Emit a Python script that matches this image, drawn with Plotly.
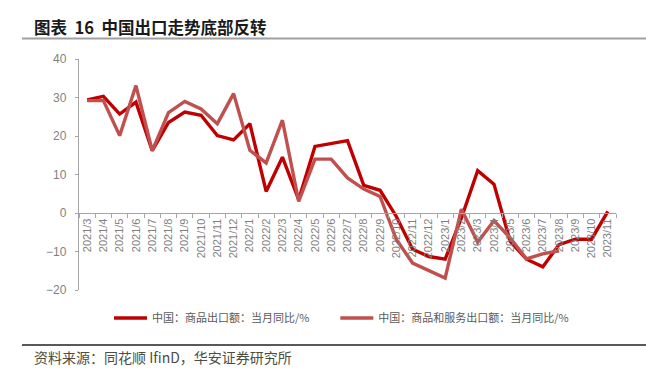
import plotly.graph_objects as go

months = ["2021/3", "2021/4", "2021/5", "2021/6", "2021/7", "2021/8", "2021/9", "2021/10",
          "2021/11", "2021/12", "2022/1", "2022/2", "2022/3", "2022/4", "2022/5", "2022/6",
          "2022/7", "2022/8", "2022/9", "2022/10", "2022/11", "2022/12", "2023/1", "2023/2",
          "2023/3", "2023/4", "2023/5", "2023/6", "2023/7", "2023/8", "2023/9", "2023/10",
          "2023/11"]

goods_exports = [29.4, 30.3, 25.7, 28.8, 16.2, 23.5, 26.2, 25.4, 20.1, 19.0,
                 23.2, 5.6, 14.5, 3.5, 17.3, 18.0, 18.8, 7.2, 5.9, -0.9, -9.4, -11.3,
                 -12.0, -1.3, 11.0, 7.5, -7.4, -12.0, -14.0, -8.2, -6.8, -6.8, 0.4]

goods_services_exports = [29.2, 29.2, 20.1, 33.1, 16.2, 26.1, 29.0, 27.0, 23.2, 31.0,
                          16.3, 13.0, 24.1, 3.0, 14.0, 14.0, 9.1, 6.2, 4.3, -6.9, -13.0, -14.9,
                          -16.9, 1.0, -7.6, -2.0, -6.5, -11.9, -10.6, -9.8]

name1 = "中国：商品出口额：当月同比/%"
name2 = "中国：商品和服务出口额：当月同比/%"
title_text = "图表\u00a0\u00a016\u00a0\u00a0中国出口走势底部反转"
source_text = "资料来源：同花顺 IfinD，华安证券研究所"

W, H = 646, 382
L, R, T, B = 79, 30, 59, 20
PW, PH = W - L - R, H - T - B
Y_BOTTOM = 290  # pixel row of y=-20
Y_ZERO = 213    # pixel row of y=0


def px(x):
    return (x - L) / PW


def py(y):
    return (H - B - y) / PH


fig = go.Figure()
fig.add_trace(go.Scatter(x=months, y=goods_exports, mode="lines",
                         name=name1 + "\u3000\u00a0\u00a0\u00a0\u00a0",
                         line=dict(color="#C00000", width=3.4)))
fig.add_trace(go.Scatter(x=months[:len(goods_services_exports)], y=goods_services_exports,
                         mode="lines", name=name2,
                         line=dict(color="#C0504D", width=3.4)))

gray = "#7F7F7F"
fig.update_layout(
    width=W, height=H,
    margin=dict(l=L, r=R, t=T, b=B),
    paper_bgcolor="white", plot_bgcolor="white",
    font=dict(family="Liberation Sans, Arial", color=gray),
    showlegend=True,
    legend=dict(orientation="h", x=px(109), xanchor="left", y=py(318), yanchor="middle",
                font=dict(family="Noto Sans CJK SC", size=11, color="#595959"),
                itemwidth=33, bgcolor="rgba(0,0,0,0)"),
    xaxis=dict(type="category", range=[-0.5, 32.5], anchor="free", position=py(Y_ZERO),
               showline=True, linecolor="#A6A6A6", linewidth=1.3,
               ticks="outside", ticklen=4, tickcolor="#A6A6A6", tickson="boundaries",
               tickangle=-90, tickfont=dict(size=11, color=gray),
               showgrid=False, zeroline=False),
    yaxis=dict(domain=[py(Y_BOTTOM), 1], range=[-20, 40], dtick=10,
               showline=True, linecolor="#A6A6A6", linewidth=1.3,
               ticks="outside", ticklen=3, tickcolor="#A6A6A6",
               tickfont=dict(size=12, color=gray), ticklabelstandoff=6,
               showgrid=False, zeroline=False),
    shapes=[
        dict(type="line", xref="paper", yref="paper", x0=px(22), x1=px(646),
             y0=py(38.5), y1=py(38.5), line=dict(color="#A0A0A0", width=2)),
        dict(type="line", xref="paper", yref="paper", x0=px(22), x1=px(646),
             y0=py(345), y1=py(345), line=dict(color="#222222", width=1.5)),
    ],
    annotations=[
        dict(text="<b>" + title_text + "</b>", xref="paper", yref="paper",
             x=px(32), y=py(27), xanchor="left", yanchor="middle", showarrow=False,
             font=dict(family="Noto Sans CJK SC", size=16.5, color="#1a1a1a")),
        dict(text=source_text, xref="paper", yref="paper",
             x=px(32), y=py(357), xanchor="left", yanchor="middle", showarrow=False,
             font=dict(family="Noto Sans CJK SC", size=14, color="#4d4d40")),
    ],
)

fig.write_html("out.html", config={"displayModeBar": False},
               post_script="document.body.style.margin='0';document.body.style.padding='0';")
